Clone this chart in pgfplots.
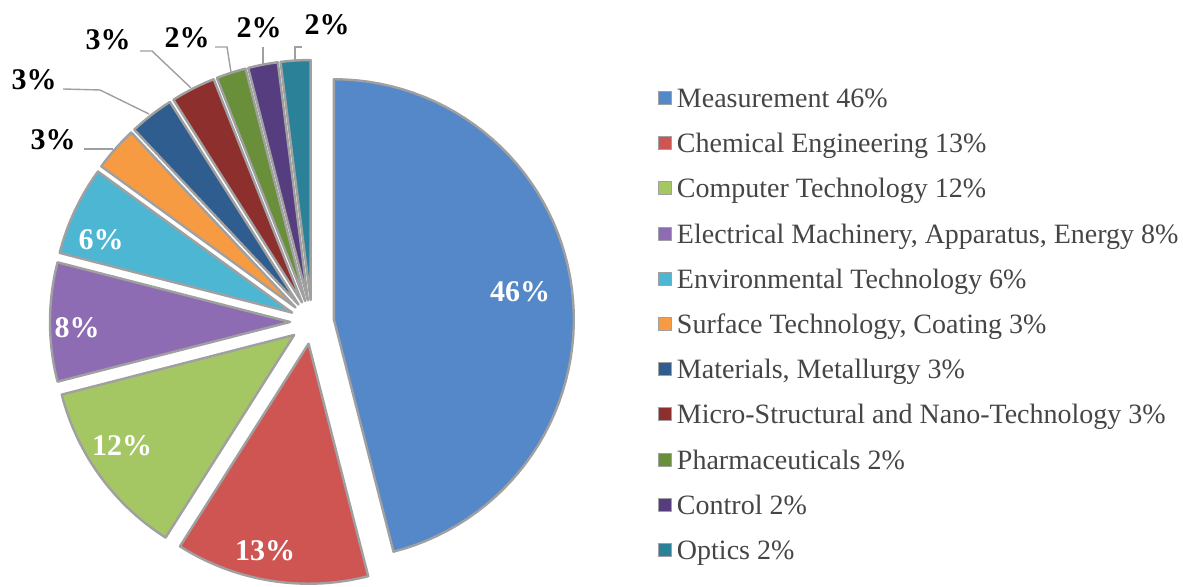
\documentclass[border=0pt]{standalone}
\usepackage{pgfplots}
\pgfplotsset{compat=1.18}
\usepackage{fontspec}
\setmainfont{Liberation Serif}
\definecolor{cMeas}{HTML}{5588C8}
\definecolor{cChem}{HTML}{CF5552}
\definecolor{cComp}{HTML}{A4C764}
\definecolor{cElec}{HTML}{8D6CB3}
\definecolor{cEnv}{HTML}{4DB6D3}
\definecolor{cSurf}{HTML}{F79B43}
\definecolor{cMat}{HTML}{2F5D8F}
\definecolor{cMicro}{HTML}{8C2F2D}
\definecolor{cPharm}{HTML}{6A8F3B}
\definecolor{cCtrl}{HTML}{553D80}
\definecolor{cOpt}{HTML}{2B8198}
\definecolor{bevel}{HTML}{A0A0A0}
\definecolor{legtext}{HTML}{454545}
% pie geometry (axis units = pixels of the reference)
\newcommand\pcx{312}
\newcommand\pcy{265}
\newcommand\pR{240}
\newcommand\pex{22}
\newcommand\cum{0}
\newcommand\pieslice[3]{%
  \pgfmathsetmacro\aEnd{90-3.6*\cum}%
  \pgfmathsetmacro\aStart{90-3.6*(\cum+#1)}%
  \pgfmathsetmacro\aMid{(\aStart+\aEnd)/2}%
  \pgfmathsetmacro\vx{\pcx+\pex*cos(\aMid)}%
  \pgfmathsetmacro\vy{\pcy+\pex*sin(\aMid)}%
  \edef\doslice{\noexpand\addplot[fill=#2, draw=bevel, line width=1.2pt, line join=round,
     domain=\aStart:\aEnd, samples=61, variable=\noexpand\t]
     ({\vx+\pR*cos(\noexpand\t)},{\vy+\pR*sin(\noexpand\t)}) -- (axis cs:\vx,\vy) -- cycle;}%
  \doslice
  \addlegendentry{#3}%
  \pgfmathsetmacro\newcum{\cum+#1}%
  \xdef\cum{\newcum}%
}
\begin{document}
\begin{tikzpicture}
\begin{axis}[
  width=591.5pt, height=293.5pt, scale only axis,
  xmin=0, xmax=1183, ymin=0, ymax=587,
  hide axis, clip=false,
  legend cell align=left,
  legend image code/.code={\draw[#1, line width=0.5pt] (0pt,-2pt) rectangle (6.5pt,4.5pt);},
  legend style={at={(axis description cs:0.5562,0.8508)}, anchor=north west,
    draw=none, fill=none, inner sep=0pt, outer sep=0pt,
    row sep=9.6pt, column sep=2.5pt,
    font=\fontsize{14}{16}\selectfont, text=legtext,
    nodes={inner sep=0pt, text height=10pt, text depth=3pt}},
]
\pieslice{46}{cMeas}{Measurement 46\%}
\pieslice{13}{cChem}{Chemical Engineering 13\%}
\pieslice{12}{cComp}{Computer Technology 12\%}
\pieslice{8}{cElec}{Electrical Machinery, Apparatus, Energy 8\%}
\pieslice{6}{cEnv}{Environmental Technology 6\%}
\pieslice{3}{cSurf}{Surface Technology, Coating 3\%}
\pieslice{3}{cMat}{Materials, Metallurgy 3\%}
\pieslice{3}{cMicro}{Micro-Structural and Nano-Technology 3\%}
\pieslice{2}{cPharm}{Pharmaceuticals 2\%}
\pieslice{2}{cCtrl}{Control 2\%}
\pieslice{2}{cOpt}{Optics 2\%}
% leader lines
\addplot[forget plot, draw=gray!75, line width=0.7pt] coordinates {(84,438) (113,438)};
\addplot[forget plot, draw=gray!75, line width=0.7pt] coordinates {(63,498) (100,497) (149,473)};
\addplot[forget plot, draw=gray!75, line width=0.7pt] coordinates {(140,536) (152,536) (191,499)};
\addplot[forget plot, draw=gray!75, line width=0.7pt] coordinates {(215,540) (227,540) (231,515)};
\addplot[forget plot, draw=gray!75, line width=0.7pt] coordinates {(263,540) (263,523)};
\addplot[forget plot, draw=gray!75, line width=0.7pt] coordinates {(302,540) (295,540) (295,527)};
% labels
\begin{scope}[every node/.style={font=\bfseries\fontsize{15}{18}\selectfont, inner sep=0pt}]
\node[text=white] at (axis cs:520,295) {46\%};
\node[text=white] at (axis cs:265,36) {13\%};
\node[text=white] at (axis cs:122,141) {12\%};
\node[text=white] at (axis cs:77,259) {8\%};
\node[text=white] at (axis cs:101,347) {6\%};
\node[text=black] at (axis cs:53,447) {3\%};
\node[text=black] at (axis cs:34,507) {3\%};
\node[text=black] at (axis cs:108,547) {3\%};
\node[text=black] at (axis cs:187,549) {2\%};
\node[text=black] at (axis cs:259,559) {2\%};
\node[text=black] at (axis cs:327,562) {2\%};
\end{scope}
\end{axis}
\pgfresetboundingbox
\path (current axis.south west) rectangle (current axis.north east);
\end{tikzpicture}
\end{document}
